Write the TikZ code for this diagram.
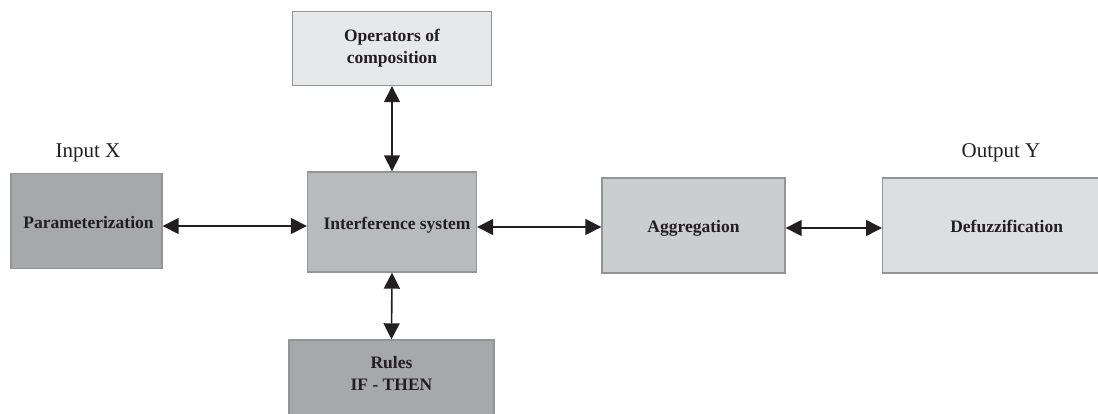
\documentclass[tikz,border=0pt]{standalone}
\usepackage{fontspec}
\setmainfont{Liberation Serif}
\usetikzlibrary{arrows.meta}
\definecolor{cdark}{HTML}{A7A8AA}
\definecolor{cmid}{HTML}{B9BABC}
\definecolor{clight}{HTML}{CCCDCE}
\definecolor{cpale}{HTML}{DDDEDF}
\definecolor{cvpale}{HTML}{E7E8E9}
\definecolor{cborder}{HTML}{939496}
\definecolor{carrow}{HTML}{231F20}
\newcommand{\lowertext}[2]{\raisebox{-#1}[12pt][4pt]{#2}}
\tikzset{
  blockbox/.style={draw=cborder, line width=1.4pt, font=\bfseries\fontsize{17.5}{22}\selectfont, text=carrow, align=center, inner sep=0pt},
  biarrow/.style={carrow, line width=1.6pt, {Triangle[length=16pt,width=16pt]}-{Triangle[length=16pt,width=16pt]}},
  plainlabel/.style={font=\fontsize{21}{24}\selectfont, text=carrow}
}
\begin{document}
\begin{tikzpicture}[x=1pt,y=-1pt]
\useasboundingbox (0,0) rectangle (1098,414);
\node[blockbox, fill=cdark, minimum width=151pt, minimum height=95pt] (param) at (86.5,221) {\hspace*{4pt}\lowertext{4pt}{Parameterization}};
\node[blockbox, fill=cmid, minimum width=169pt, minimum height=100pt] (inter) at (392,222) {\hspace*{10pt}\lowertext{4pt}{Interference system}};
\node[blockbox, fill=cvpale, minimum width=199pt, minimum height=74pt] (ops) at (392,48.5) {Operators of\\composition};
\node[blockbox, fill=cdark, minimum width=205pt, minimum height=82pt] (rules) at (391.5,381) {Rules\\IF - THEN\\[-6pt]\mbox{}};
\node[blockbox, fill=clight, minimum width=183pt, minimum height=95pt] (aggr) at (693.5,225.5) {\lowertext{3pt}{Aggregation}};
\node[blockbox, fill=cpale, minimum width=248pt, minimum height=95pt, anchor=west] (defuzz) at (882,225.5) {\lowertext{3pt}{Defuzzification}};
\node[plainlabel] (inx) at (88,153) {Input X};
\node[plainlabel] (outy) at (1001,153) {Output Y};
\draw[biarrow] (param.east |- 0,226) -- (inter.west |- 0,226);
\draw[biarrow] (inter.east |- 0,227) -- (aggr.west |- 0,227);
\draw[biarrow] (aggr.east |- 0,228) -- (defuzz.west |- 0,228);
\draw[biarrow] (ops.south) -- (inter.north);
\draw[biarrow] (inter.south) -- (rules.north);
\end{tikzpicture}
\end{document}
